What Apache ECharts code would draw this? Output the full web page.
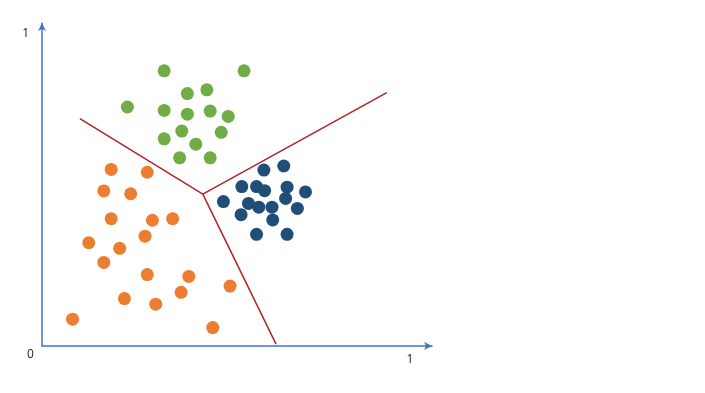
<!DOCTYPE html>
<html>
<head>
<meta charset="utf-8">
<script src="https://cdn.jsdelivr.net/npm/echarts@6/dist/echarts.min.js"></script>
<style>html,body{margin:0;padding:0;background:#fff}#c{width:705px;height:393px}</style>
</head>
<body>
<div id="c"></div>
<script>
// Data (normalised 0..1 coordinates)
const greenX = [0.332,0.549,0.232,0.395,0.448,0.332,0.395,0.457,0.506,0.380,0.332,0.487,0.418,0.374,0.457];
const greenY = [0.882,0.882,0.766,0.809,0.821,0.755,0.743,0.753,0.736,0.689,0.664,0.685,0.647,0.603,0.603];
const blueX = [0.603,0.657,0.543,0.583,0.605,0.666,0.716,0.493,0.561,0.589,0.625,0.662,0.694,0.541,0.627,0.583,0.666];
const blueY = [0.564,0.577,0.511,0.511,0.498,0.509,0.494,0.463,0.457,0.445,0.445,0.473,0.441,0.421,0.404,0.358,0.358];
const orangeX = [0.188,0.286,0.168,0.241,0.188,0.300,0.355,0.280,0.127,0.211,0.168,0.286,0.399,0.511,0.378,0.224,0.309,0.083,0.464];
const orangeY = [0.566,0.557,0.497,0.488,0.408,0.403,0.408,0.352,0.331,0.313,0.268,0.229,0.223,0.192,0.172,0.152,0.134,0.086,0.059];
// Decision boundaries: junction and three end points
const junction = [0.437,0.487];
const boundaryEnds = [[0.103,0.729],[0.937,0.812],[0.636,0.006]];
const tickLabels = ['0','1'];

const zip = (xs, ys) => xs.map((x,i)=>[x, ys[i]]);
const dot = (name, color, xs, ys) => ({
  type:'scatter', name, data: zip(xs, ys), symbolSize: 13,
  itemStyle:{color, opacity:1}, emphasis:{disabled:true}, silent:true, z:3
});
const boundarySeries = boundaryEnds.map(e => ({
  type:'line', data:[junction, e], symbol:'none', silent:true,
  lineStyle:{color:'#B0232A', width:1.5}, z:2
}));

const chart = echarts.init(document.getElementById('c'));
chart.setOption({
  animation:false,
  backgroundColor:'#ffffff',
  grid:{left:42, right:273, top:23, bottom:47, containLabel:false},
  xAxis:{
    type:'value', min:0, max:1.0598, interval:1,
    axisLine:{show:true, lineStyle:{color:'#4472C4', width:1.5}, symbol:['none','arrow'], symbolSize:[6,8], onZero:false},
    axisTick:{show:false}, splitLine:{show:false},
    axisLabel:{formatter:v => v===1 ? tickLabels[1] : '', margin:8, color:'#222', fontSize:12, fontFamily:'Open Sans'}
  },
  yAxis:{
    type:'value', min:0, max:1.0353, interval:1,
    axisLine:{show:true, lineStyle:{color:'#4472C4', width:1.5}, symbol:['none','arrow'], symbolSize:[6,8], onZero:false},
    axisTick:{show:false}, splitLine:{show:false},
    axisLabel:{formatter:v => v===1 ? tickLabels[1] : '', margin:13, color:'#222', fontSize:12, fontFamily:'Open Sans'}
  },
  graphic:[{type:'text', left:27, top:349, style:{text:tickLabels[0], fill:'#222', font:'12px "Open Sans"'}}],
  series:[
    dot('green','#70AD47',greenX,greenY),
    dot('blue','#1F4E79',blueX,blueY),
    dot('orange','#ED7D31',orangeX,orangeY),
    ...boundarySeries
  ]
});
</script>
</body>
</html>
